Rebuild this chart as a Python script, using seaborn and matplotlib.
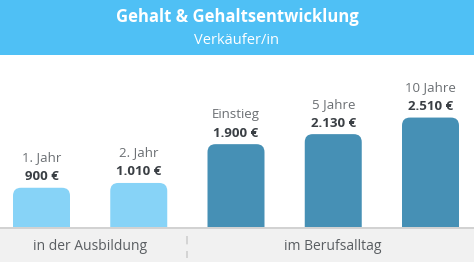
import matplotlib
matplotlib.use("Agg")
import matplotlib.pyplot as plt
import matplotlib.transforms as mtransforms
from matplotlib.patches import FancyBboxPatch, Rectangle
from matplotlib.lines import Line2D
import seaborn as sns
import pandas as pd

# ---- data ----
categories = ["1. Jahr", "2. Jahr", "Einstieg", "5 Jahre", "10 Jahre"]
values = [900, 1010, 1900, 2130, 2510]
value_labels = ["900 €", "1.010 €", "1.900 €", "2.130 €", "2.510 €"]
phase = ["Ausbildung", "Ausbildung", "Beruf", "Beruf", "Beruf"]
group_labels = ["in der Ausbildung", "im Berufsalltag"]
title = "Gehalt & Gehaltsentwicklung"
subtitle = "Verkäufer/in"

df = pd.DataFrame({"cat": categories, "val": values, "phase": phase})

sns.set_theme(style="white")
plt.rcParams["font.family"] = ["Open Sans", "DejaVu Sans"]

W, H = 474, 266
fig = plt.figure(figsize=(W / 100, H / 100), dpi=100)
fig.patch.set_facecolor("white")

# header band
fig.patches.append(Rectangle((0, (H - 55) / H), 1, 55 / H, transform=fig.transFigure,
                             facecolor="#4fc0f5", edgecolor="none", zorder=0))
fig.text(0.5, 1 - 17 / H, title, ha="center", va="center", color="white",
         fontsize=12, fontweight="bold")
fig.text(0.5, 1 - 40 / H, subtitle, ha="center", va="center", color="white",
         fontsize=10.5)

# bottom band
fig.patches.append(Rectangle((0, (H - 262) / H), 1, 33 / H, transform=fig.transFigure,
                             facecolor="#f1f1f1", edgecolor="none", zorder=0))
fig.lines.append(Line2D([0, 1], [(H - 228) / H] * 2, transform=fig.transFigure,
                        color="#c9c9c9", linewidth=1.2))

ax_bottom = (H - 227) / H
ax_height = (227 - 55) / H
ax = fig.add_axes([0, ax_bottom, 1, ax_height])
ax.set_facecolor("none")

palette = {"Ausbildung": "#87d3f7", "Beruf": "#4690b5"}
sns.barplot(data=df, x="cat", y="val", hue="phase", palette=palette, dodge=False,
            width=0.586, legend=False, ax=ax, saturation=1)

px_per_x = 97.25
px_per_y = 0.0436
ax.set_xlim(-41.5 / px_per_x, (W - 41.5) / px_per_x)
ax.set_ylim(0, (227 - 55) / px_per_y)

# replace bars by rounded-top bars
radius_px = 8
for p in list(ax.patches):
    x, y = p.get_x(), p.get_y()
    w, h = p.get_width(), p.get_height()
    fc = p.get_facecolor()
    p.remove()
    ext = 400
    rb = FancyBboxPatch((x, y - ext), w, h + ext,
                        boxstyle=f"round,pad=0,rounding_size={radius_px / px_per_x}",
                        mutation_aspect=(1 / px_per_y) / (1 / px_per_x),
                        facecolor=fc, edgecolor="none", clip_on=True)
    ax.add_patch(rb)

for i, (c, v, lab) in enumerate(zip(categories, values, value_labels)):
    ax.annotate(lab, (i, v), xytext=(0, 8), textcoords="offset points",
                ha="center", va="center", fontsize=9.5, fontweight="bold",
                color="#3a3f44", annotation_clip=False)
    ax.annotate(c, (i, v), xytext=(0, 21.6), textcoords="offset points",
                ha="center", va="center", fontsize=9.5, color="#6b6f73",
                annotation_clip=False)

ax.set_axis_off()

# group labels in bottom band
blend = mtransforms.blended_transform_factory(ax.transData, fig.transFigure)
fig.text(0.5, 1 - 247 / H, group_labels[0], transform=blend, ha="center", va="center",
         fontsize=10, color="#5a5e62")
fig.text(3, 1 - 247 / H, group_labels[1], transform=blend, ha="center", va="center",
         fontsize=10, color="#5a5e62")
fig.lines.append(Line2D([1.5, 1.5], [1 - 236 / H, 1 - 258 / H], transform=blend,
                        color="#cfcfcf", linewidth=1.2, linestyle=(0, (5, 4))))

fig.savefig("out.png", dpi=100)
